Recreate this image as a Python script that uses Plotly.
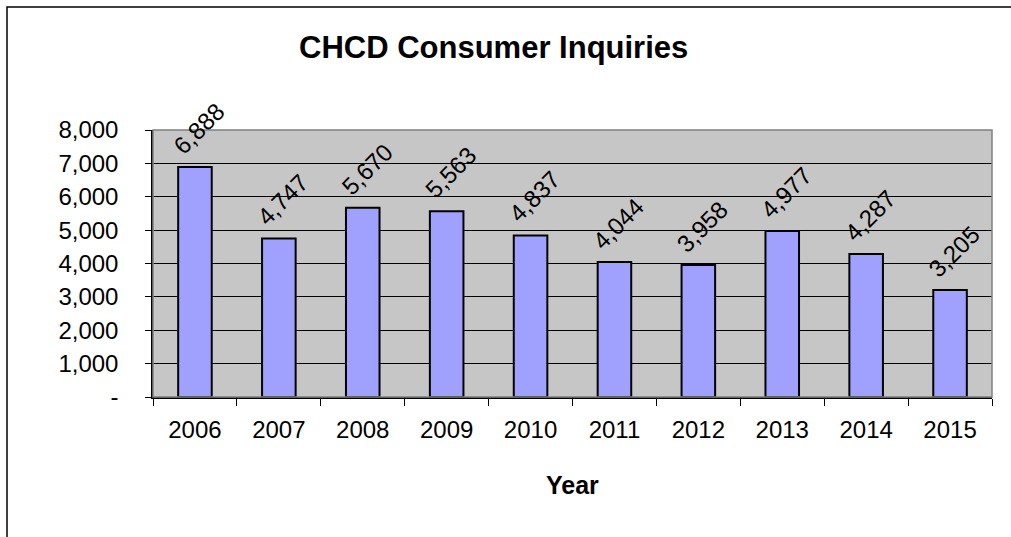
import plotly.graph_objects as go

years = ["2006", "2007", "2008", "2009", "2010", "2011", "2012", "2013", "2014", "2015"]
inquiries = [6888, 4747, 5670, 5563, 4837, 4044, 3958, 4977, 4287, 3205]
y_tickvals = [0, 1000, 2000, 3000, 4000, 5000, 6000, 7000, 8000]
y_ticktext = ["-", "1,000", "2,000", "3,000", "4,000", "5,000", "6,000", "7,000", "8,000"]
title_text = "CHCD Consumer Inquiries"
x_title = "Year"

FONT = "Arial, Liberation Sans, sans-serif"

W, H = 1011, 537
L, R, T, B = 153, 992, 130, 397
pw, ph = R - L, B - T


def px_x(p):
    return (p - L) / pw


def px_y(p):
    return (B - p) / ph


fig = go.Figure()
fig.add_trace(go.Bar(
    x=years, y=inquiries, width=0.4,
    marker=dict(color="#A0A0FF", line=dict(color="black", width=2)),
    hoverinfo="x+y",
))

for i, v in enumerate(inquiries):
    fig.add_annotation(
        x=i, y=v, xref="x", yref="y", text=f"{v:,}", showarrow=False,
        textangle=-45, xanchor="center", yanchor="bottom", xshift=4, yshift=5,
        font=dict(family=FONT, size=24, color="black"),
    )

fig.add_annotation(
    x=px_x(493), y=px_y(48), xref="paper", yref="paper", text=f"<b>{title_text}</b>",
    showarrow=False, xanchor="center", yanchor="middle",
    font=dict(family=FONT, size=31, color="black"),
)
fig.add_annotation(
    x=px_x(572), y=px_y(485), xref="paper", yref="paper", text=f"<b>{x_title}</b>",
    showarrow=False, xanchor="center", yanchor="middle",
    font=dict(family=FONT, size=25, color="black"),
)

# outer border
fig.add_shape(type="rect", xref="paper", yref="paper",
              x0=px_x(7), x1=px_x(1016), y0=px_y(542), y1=px_y(7),
              line=dict(color="black", width=1.5), fillcolor="rgba(0,0,0,0)")
# plot area border (top/right gray)
fig.add_shape(type="rect", xref="paper", yref="paper", x0=0, x1=1, y0=0, y1=1,
              line=dict(color="#808080", width=1.5), fillcolor="rgba(0,0,0,0)")

fig.update_layout(
    width=W, height=H,
    margin=dict(l=L, r=W - R, t=T, b=H - B, pad=0),
    paper_bgcolor="white", plot_bgcolor="#C6C6C6",
    showlegend=False,
    font=dict(family=FONT, size=24, color="black"),
)
fig.update_xaxes(
    type="category", range=[-0.5, len(years) - 0.5], showgrid=False,
    showline=True, linecolor="black", linewidth=1.5,
    ticks="outside", tickson="boundaries", ticklen=7, tickcolor="black", tickwidth=1,
    tickfont=dict(family=FONT, size=24, color="black"), ticklabelstandoff=10,
    tickangle=0,
)
fig.update_yaxes(
    range=[0, 8000], tickvals=y_tickvals, ticktext=y_ticktext,
    showgrid=True, gridcolor="black", gridwidth=1, zeroline=False,
    showline=True, linecolor="black", linewidth=1.5,
    ticks="outside", ticklen=6, tickcolor="black", tickwidth=1,
    tickfont=dict(family=FONT, size=24, color="black"), ticklabelstandoff=22,
)

fig.write_html(
    "out.html",
    config={"displayModeBar": False},
    post_script="document.body.style.margin='0';document.body.style.overflow='hidden';",
)
